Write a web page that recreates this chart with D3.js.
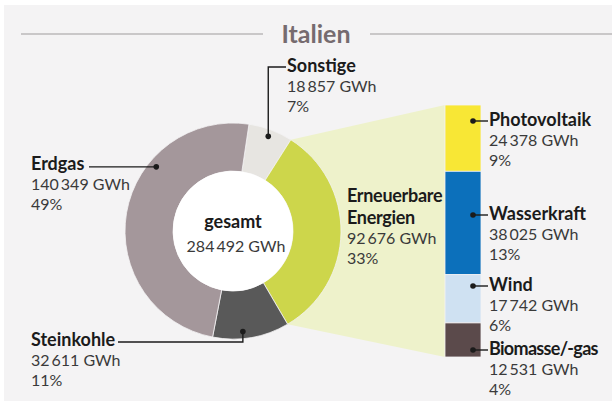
<!DOCTYPE html>
<html><head><meta charset="utf-8">
<script src="https://cdn.jsdelivr.net/npm/d3@7"></script>
<style>
body{margin:0;background:#fff}
svg{display:block}
text{font-family:Lato,"Open Sans",sans-serif}
</style>
</head><body>
<svg id="c" width="612" height="401"></svg>
<script>
// ---------- data ----------
const title = "Italien";
const totalLabel = "gesamt";
const totalGWh = 284492;
const categories = ["Sonstige", "Erneuerbare Energien", "Steinkohle", "Erdgas"];
const valuesGWh = [18857, 92676, 32611, 140349];
const percentLabels = ["7%", "33%", "11%", "49%"];
const renewableCategories = ["Photovoltaik", "Wasserkraft", "Wind", "Biomasse/-gas"];
const renewableGWh = [24378, 38025, 17742, 12531];
const renewablePercents = ["9%", "13%", "6%", "4%"];

// ---------- styles / layout ----------
const colors = ["#e7e5e1", "#cdd64b", "#595959", "#a4979b"];
const renewableColors = ["#f8e735", "#0c70bb", "#cfe1f2", "#5b4a4b"];
const bg = "#f4f3f4";
const ink = "#1b1b1b", valueInk = "#3a3a3a";
const cx = 233, cy = 231, rOuter = 108, rInner = 60;
const startDeg = 8.5;
const barX = 445, barW = 36, barTop = 105, barBottom = 357;
const boldSize = 18, valueSize = 16, lineGap = 20;

const loc = d3.formatLocale({decimal: ",", thousands: "\u2009", grouping: [3], currency: ["", " €"]});
const fmt = v => loc.format(",")(v) + " GWh";

const svg = d3.select("#c");
svg.append("rect").attr("x", 4).attr("y", 5).attr("width", 608).attr("height", 396).attr("fill", bg);

// title
svg.append("line").attr("x1", 21).attr("x2", 263).attr("y1", 34).attr("y2", 34)
  .attr("stroke", "#c9c7c8").attr("stroke-width", 2);
svg.append("line").attr("x1", 370).attr("x2", 612).attr("y1", 34).attr("y2", 34)
  .attr("stroke", "#c9c7c8").attr("stroke-width", 2);
svg.append("text").attr("x", 316).attr("y", 43).attr("text-anchor", "middle")
  .attr("font-size", 25).attr("font-weight", 700).attr("fill", "#766b6f").text(title);

// pie
const a0 = startDeg * Math.PI / 180;
const pie = d3.pie().sort(null).value(d => d).startAngle(a0).endAngle(a0 + 2 * Math.PI);
const arcs = pie(valuesGWh);
const arc = d3.arc().innerRadius(rInner).outerRadius(rOuter);
const pt = (ang, r) => [cx + r * Math.sin(ang), cy - r * Math.cos(ang)];

// renewable bar scale
const yBar = d3.scaleLinear().domain([0, d3.sum(renewableGWh)]).range([barTop, barBottom]);
const cum = [0, ...d3.cumsum(renewableGWh)];

// connecting wedge (behind donut)
const ren = arcs[1];
const wedge = [[cx, cy], pt(ren.startAngle, rOuter), [barX, yBar(0)], [barX, yBar(cum[cum.length - 1])], pt(ren.endAngle, rOuter)];
svg.append("path").attr("d", d3.line()(wedge) + "Z").attr("fill", "#eef2cb");

const g = svg.append("g").attr("transform", `translate(${cx},${cy})`);
g.selectAll("path.seg").data(arcs).join("path").attr("class", "seg")
  .attr("d", arc).attr("fill", (d, i) => colors[i]).attr("stroke", bg).attr("stroke-width", 0.8);
g.append("circle").attr("r", rInner).attr("fill", "#fff");
const ct = g.append("text").attr("text-anchor", "middle").attr("y", -3);
ct.append("tspan").attr("x", 0).attr("font-size", boldSize).attr("font-weight", 700).attr("fill", ink).text(totalLabel);
ct.append("tspan").attr("x", 3).attr("dy", 24).attr("font-size", valueSize)
  .attr("fill", valueInk).text(fmt(totalGWh));

// bar
svg.selectAll("rect.bar").data(renewableGWh).join("rect").attr("class", "bar")
  .attr("x", barX).attr("width", barW)
  .attr("y", (d, i) => yBar(cum[i])).attr("height", (d, i) => yBar(cum[i + 1]) - yBar(cum[i]))
  .attr("fill", (d, i) => renewableColors[i]).attr("stroke", bg).attr("stroke-width", 0.8);

// label helper: one text block with tspans
function label(x, y, boldLines, value, pct, spacing) {
  const t = svg.append("text").attr("x", x).attr("y", y);
  boldLines.forEach((s, k) => {
    t.append("tspan").attr("x", x).attr("dy", k === 0 ? 0 : lineGap + 1.5).attr("font-size", boldSize)
      .attr("font-weight", 700).attr("letter-spacing", spacing || 0).attr("fill", ink).text(s);
  });
  [value, pct].forEach(s => {
    t.append("tspan").attr("x", x).attr("dy", lineGap).attr("font-size", valueSize).attr("fill", valueInk).text(s);
  });
}
function dot(p) {
  svg.append("circle").attr("cx", p[0]).attr("cy", p[1]).attr("r", 2.8).attr("fill", ink);
}
function leader(points) {
  svg.append("path").attr("d", d3.line()(points)).attr("fill", "none").attr("stroke", ink).attr("stroke-width", 1.4);
}

// donut labels
const leaderR = 101;
// Sonstige
const pS = pt((arcs[0].startAngle + arcs[0].endAngle) / 2, leaderR);
leader([pS, [pS[0], 67], [286, 67]]); dot(pS);
label(287, 72, [categories[0]], fmt(valuesGWh[0]), percentLabels[0]);
// Erdgas
const pE = pt(arcs[3].startAngle + (arcs[3].endAngle - arcs[3].startAngle) * 0.67, 100);
leader([[89, pE[1]], pE]); dot(pE);
label(31, 170, [categories[3]], fmt(valuesGWh[3]), percentLabels[3]);
// Steinkohle
const pK = pt(arcs[2].startAngle + (arcs[2].endAngle - arcs[2].startAngle) * 0.6, leaderR);
leader([pK, [pK[0], 342], [118, 342]]); dot(pK);
label(31, 346, [categories[2]], fmt(valuesGWh[2]), percentLabels[2]);
// Erneuerbare
label(347, 202, ["Erneuerbare", "Energien"], fmt(valuesGWh[1]), percentLabels[1], -0.3);

// renewable labels
const barLabelY = [126, 220, 291, 355];
renewableCategories.forEach((c, i) => {
  const dy = barLabelY[i] - 5;
  leader([[barX + 28, dy], [barX + 43, dy]]); dot([barX + 28, dy]);
  label(489, barLabelY[i], [c], fmt(renewableGWh[i]), renewablePercents[i], i === 3 ? -0.7 : 0);
});
</script>
</body></html>
